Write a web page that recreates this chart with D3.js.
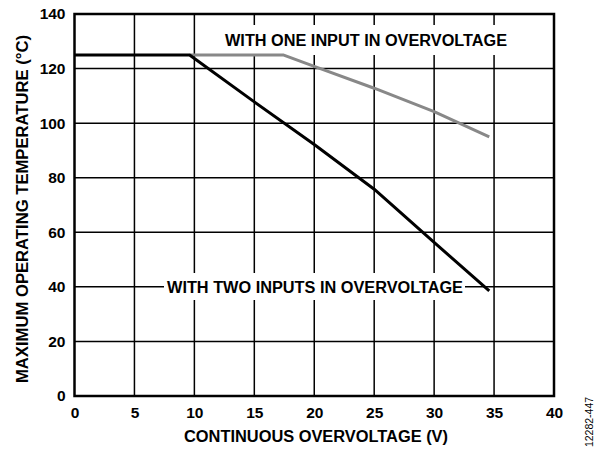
<!DOCTYPE html>
<html><head><meta charset="utf-8">
<script src="https://cdn.jsdelivr.net/npm/d3@7"></script>
<style>body{margin:0;background:#fff}svg{display:block}text{font-family:"Liberation Sans",Arial,sans-serif}</style>
</head><body>
<svg id="c" width="600" height="450"></svg>
<script>
const xTicks = [0,5,10,15,20,25,30,35,40];
const yTicks = [0,20,40,60,80,100,120,140];
const twoInputsV = [0, 9.6, 15, 20, 25, 30, 34.6];
const twoInputsT = [125, 125, 107.8, 92.2, 75.8, 56.3, 38.5];
const oneInputV = [9.6, 17.4, 20, 25, 30, 34.6];
const oneInputT = [125, 125, 120.8, 112.8, 104.2, 95];
const xTitle = "CONTINUOUS OVERVOLTAGE (V)";
const yTitle = "MAXIMUM OPERATING TEMPERATURE (°C)";
const labelOne = "WITH ONE INPUT IN OVERVOLTAGE";
const labelTwo = "WITH TWO INPUTS IN OVERVOLTAGE";
const figId = "12282-447";

const svg = d3.select("#c");
const L=74.5, R=554, T=14, B=396;
const x = d3.scaleLinear().domain([0,40]).range([L,R]);
const y = d3.scaleLinear().domain([0,140]).range([B,T]);

// grid
const g = svg.append("g");
g.selectAll("line.v").data(xTicks.slice(1,-1)).join("line")
 .attr("x1",d=>x(d)).attr("x2",d=>x(d)).attr("y1",T).attr("y2",B)
 .attr("stroke","#000").attr("stroke-width",1.5);
g.selectAll("line.h").data(yTicks.slice(1,-1)).join("line")
 .attr("y1",d=>y(d)).attr("y2",d=>y(d)).attr("x1",L).attr("x2",R)
 .attr("stroke","#000").attr("stroke-width",1.5);

// label backgrounds
svg.append("rect").attr("x",218).attr("y",25).attr("width",296).attr("height",30).attr("fill","#fff");
svg.append("rect").attr("x",164).attr("y",273).attr("width",301).attr("height",27).attr("fill","#fff");

svg.append("text").attr("x",366).attr("y",46).attr("text-anchor","middle")
 .attr("font-size",16).attr("font-weight","bold")
 .attr("textLength",282).attr("lengthAdjust","spacingAndGlyphs").text(labelOne);
svg.append("text").attr("x",315).attr("y",292.5).attr("text-anchor","middle")
 .attr("font-size",16).attr("font-weight","bold")
 .attr("textLength",296).attr("lengthAdjust","spacingAndGlyphs").text(labelTwo);

// lines
const line = d3.line().x(d=>x(d[0])).y(d=>y(d[1]));
svg.append("path").datum(oneInputV.map((v,i)=>[v,oneInputT[i]]))
 .attr("d",line).attr("fill","none").attr("stroke","#888").attr("stroke-width",3).attr("stroke-linejoin","round");
svg.append("path").datum(twoInputsV.map((v,i)=>[v,twoInputsT[i]]))
 .attr("d",line).attr("fill","none").attr("stroke","#000").attr("stroke-width",3).attr("stroke-linejoin","round");

// frame
svg.append("rect").attr("x",L).attr("y",T).attr("width",R-L).attr("height",B-T)
 .attr("fill","none").attr("stroke","#000").attr("stroke-width",2.5);

// axes labels
const xa = svg.append("g").attr("transform",`translate(0,${B})`)
 .call(d3.axisBottom(x).tickValues(xTicks).tickSize(0).tickPadding(11));
xa.select(".domain").remove();
xa.selectAll("text").attr("font-size",15.5).attr("font-weight","bold").attr("fill","#000")
 .attr("font-family","'Liberation Sans',Arial,sans-serif");
const ya = svg.append("g").attr("transform",`translate(${L},0)`)
 .call(d3.axisLeft(y).tickValues(yTicks).tickSize(0).tickPadding(9));
ya.select(".domain").remove();
ya.selectAll("text").attr("font-size",15.5).attr("font-weight","bold").attr("fill","#000")
 .attr("font-family","'Liberation Sans',Arial,sans-serif");

svg.append("text").attr("x",316).attr("y",441.5).attr("text-anchor","middle")
 .attr("font-size",16).attr("font-weight","bold")
 .attr("textLength",264).attr("lengthAdjust","spacingAndGlyphs").text(xTitle);
svg.append("text").attr("transform",`translate(27.5,209) rotate(-90)`).attr("text-anchor","middle")
 .attr("font-size",16).attr("font-weight","bold")
 .attr("textLength",348).attr("lengthAdjust","spacingAndGlyphs").text(yTitle);
svg.append("text").attr("transform",`translate(593,422) rotate(-90)`).attr("text-anchor","middle")
 .attr("font-size",10.5).text(figId);
</script>
</body></html>
